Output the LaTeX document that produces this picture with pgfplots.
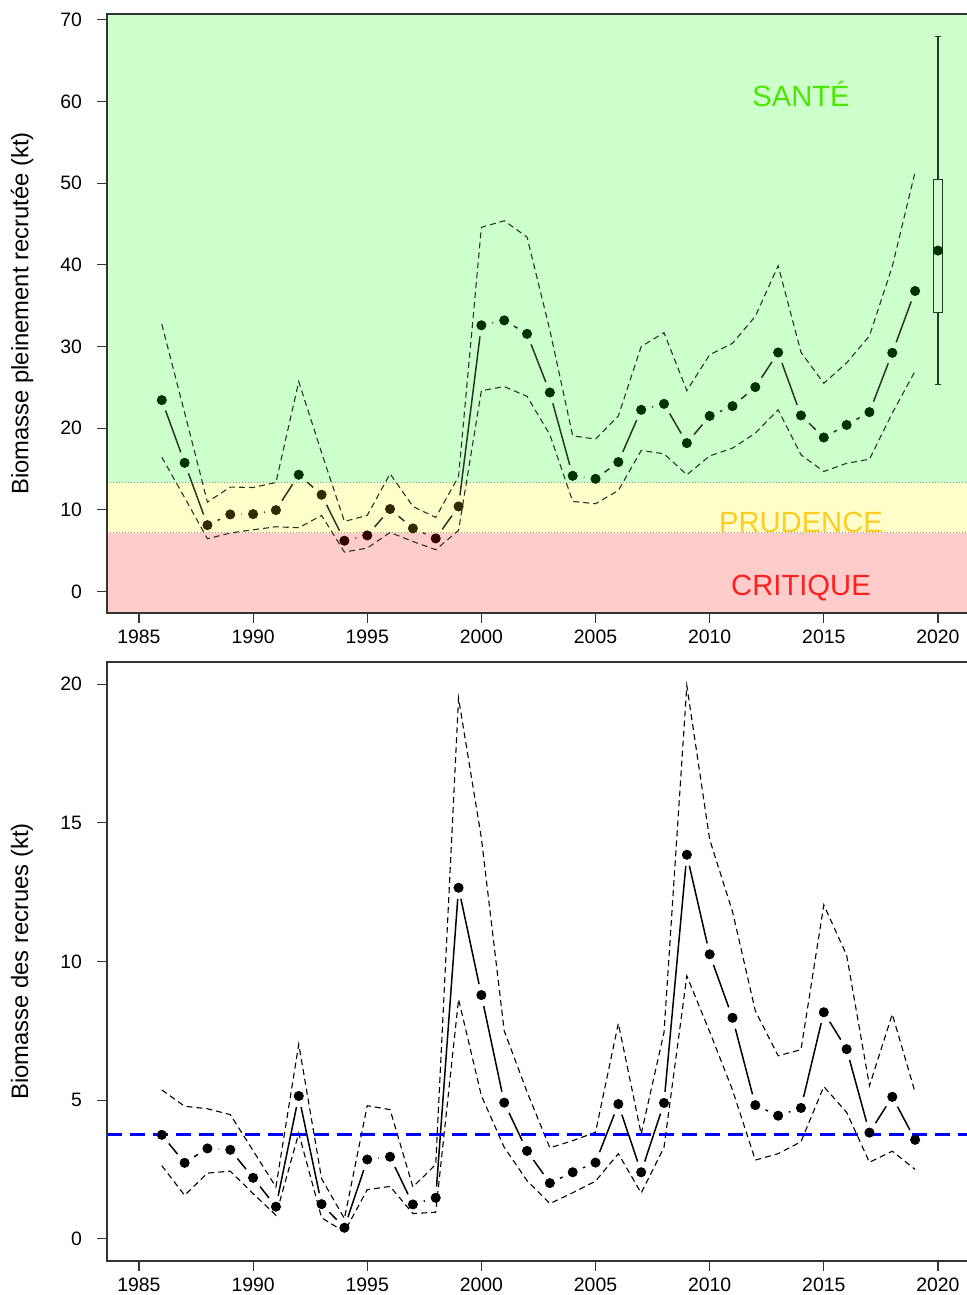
\documentclass[border=0pt]{standalone}
\usepackage{fontspec}
\setmainfont{Liberation Sans}
\usepackage{pgfplots}
\pgfplotsset{compat=1.18}
\usepackage{pgfplotstable}

\definecolor{zg}{HTML}{CCFFCC}
\definecolor{zy}{HTML}{FFFFCC}
\definecolor{zr}{HTML}{FFCCCC}
\definecolor{tg}{HTML}{4CE600}
\definecolor{ty}{HTML}{FFCC22}
\definecolor{tr}{HTML}{FF2020}
\definecolor{pg}{HTML}{003300}
\definecolor{py}{HTML}{332B00}
\definecolor{pr}{HTML}{330000}
\definecolor{ln}{HTML}{263826}

\pgfplotstableread{
year est lo hi
1986 23.44 16.46 32.74
1987 15.76 11.5 21.9
1988 8.13 6.46 10.95
1989 9.44 7.16 12.79
1990 9.48 7.56 12.74
1991 9.97 7.93 13.35
1992 14.30 7.81 25.7
1993 11.85 9.32 17.0
1994 6.22 4.83 8.58
1995 6.87 5.32 9.32
1996 10.10 7.23 14.42
1997 7.73 6.13 10.42
1998 6.50 5.12 9.07
1999 10.42 7.48 14.09
2000 32.60 24.58 44.6
2001 33.20 25.1 45.4
2002 31.55 23.9 43.4
2003 24.37 19.2 32.0
2004 14.17 11.03 19.07
2005 13.80 10.75 18.66
2006 15.85 12.37 21.5
2007 22.25 17.27 30.0
2008 22.98 16.87 31.7
2009 18.17 14.3 24.6
2010 21.5 16.6 29.0
2011 22.7 17.56 30.4
2012 25.03 19.4 33.7
2013 29.27 22.25 39.9
2014 21.56 16.74 29.3
2015 18.86 14.7 25.5
2016 20.4 15.7 28.0
2017 21.97 16.2 31.3
2018 29.23 21.85 39.8
2019 36.8 27.0 51.4
}\toptab

\pgfplotstableread{
year est lo hi
1986 3.75 2.64 5.37
1987 2.74 1.57 4.78
1988 3.26 2.37 4.69
1989 3.21 2.44 4.48
1990 2.20 1.63 3.18
1991 1.16 0.85 1.87
1992 5.15 3.81 7.02
1993 1.25 0.76 2.17
1994 0.40 0.25 0.73
1995 2.86 1.77 4.80
1996 2.96 1.89 4.66
1997 1.24 0.91 1.87
1998 1.48 0.96 2.68
1999 12.66 8.64 19.5
2000 8.79 5.16 14.45
2001 4.91 3.3 7.5
2002 3.17 2.1 5.3
2003 2.01 1.27 3.28
2004 2.40 1.66 3.54
2005 2.75 2.08 3.84
2006 4.86 3.07 7.77
2007 2.40 1.65 3.78
2008 4.90 3.3 7.44
2009 13.85 9.48 19.95
2010 10.26 7.47 14.4
2011 7.97 5.37 11.8
2012 4.82 2.84 8.22
2013 4.44 3.07 6.6
2014 4.72 3.5 6.82
2015 8.17 5.49 12.04
2016 6.84 4.56 10.23
2017 3.83 2.76 5.52
2018 5.12 3.16 8.1
2019 3.57 2.5 5.28
}\bottab

\pgfplotsset{
  common/.style={
    scale only axis, width=431.45pt, height=299.5pt,
    xmin=1983.6, xmax=2021.4,
    xtick={1985,1990,...,2020},
    tick pos=left,
    tick align=outside, major tick length=4.8pt,
    tick style={black!80, line width=0.6pt},
    axis line style={black!80, line width=0.7pt},
    ticklabel style={font=\fontsize{9.7}{11}\selectfont},
    /pgf/number format/assume math mode=true,
    /pgf/number format/1000 sep={},
    xticklabel style={inner sep=0pt, anchor=north, yshift=-3.6pt},
    yticklabel style={inner sep=0pt, anchor=east, xshift=-7.5pt},
    label style={font=\fontsize{11.9}{14}\selectfont},
    ylabel style={at={(axis description cs:-0.0985,0.5)}, anchor=center},
    axis on top,
  },
  seg/.style={no marks, line width=0.75pt, shorten <=5.6pt, shorten >=5.6pt},
  ci/.style={no marks, line width=0.55pt, dash pattern=on 3pt off 2pt},
  bx/.style={ln, no marks, line width=0.55pt},
  pt/.style={only marks, mark=*, mark size=2.3pt},
}

\begin{document}
\begin{tikzpicture}
% ---------- top panel ----------
\begin{axis}[common, at={(53.5pt,-7pt)}, anchor=north west,
  ymin=-2.63, ymax=70.72, ytick={0,10,...,70},
  ylabel={Biomasse pleinement recrutée (kt)}]
\fill[zr] (axis cs:1983.6,-2.63) rectangle (axis cs:2021.4,7.2);
\fill[zy] (axis cs:1983.6,7.2) rectangle (axis cs:2021.4,13.3);
\fill[zg] (axis cs:1983.6,13.3) rectangle (axis cs:2021.4,70.72);
\addplot[gray!80, densely dotted, line width=0.5pt] coordinates {(1983.6,7.2) (2021.4,7.2)};
\addplot[gray!80, densely dotted, line width=0.5pt] coordinates {(1983.6,13.3) (2021.4,13.3)};
\node[anchor=base, inner sep=0pt, text=tg, font=\fontsize{14.6}{17}\selectfont] at (axis cs:2014,59.45) {SANTÉ};
\node[anchor=base, inner sep=0pt, text=ty, font=\fontsize{14.6}{17}\selectfont] at (axis cs:2014,7.25) {PRUDENCE};
\node[anchor=base, inner sep=0pt, text=tr, font=\fontsize{14.6}{17}\selectfont] at (axis cs:2014,-0.51) {CRITIQUE};
\addplot[ln, ci] table[x=year, y=lo] {\toptab};
\addplot[ln, ci] table[x=year, y=hi] {\toptab};
\foreach \i [evaluate=\i as \k using int(\i+2)] in {0,...,32}{
  \edef\tmp{\noexpand\addplot[ln, seg, skip coords between index={0}{\i}, skip coords between index={\k}{100}] table[x=year, y=est] {\noexpand\toptab};}
  \tmp
}
\addplot[pt, mark options={draw=pg, fill=pg}, restrict y to domain=13.3:100] table[x=year, y=est] {\toptab};
\addplot[pt, mark options={draw=py, fill=py}, restrict y to domain=7.2:13.3] table[x=year, y=est] {\toptab};
\addplot[pt, mark options={draw=pr, fill=pr}, restrict y to domain=-10:7.2] table[x=year, y=est] {\toptab};
% 2020 box (quartiles 34.2 / 50.5, whiskers 25.4 / 68.0)
\addplot[bx] coordinates {(2019.8,34.2) (2020.2,34.2) (2020.2,50.5) (2019.8,50.5) (2019.8,34.2)};
\addplot[bx] coordinates {(2019.8,41.75) (2020.2,41.75)};
\addplot[bx] coordinates {(2020,50.5) (2020,68.0)};
\addplot[bx] coordinates {(2019.87,68.0) (2020.13,68.0)};
\addplot[bx] coordinates {(2020,34.2) (2020,25.4)};
\addplot[bx] coordinates {(2019.87,25.4) (2020.13,25.4)};
\addplot[pt, mark options={draw=pg, fill=pg}] coordinates {(2020,41.75)};
\end{axis}
% ---------- bottom panel ----------
\begin{axis}[common, at={(53.5pt,-331pt)}, anchor=north west,
  ymin=-0.8, ymax=20.8, ytick={0,5,...,20},
  ylabel={Biomasse des recrues (kt)}]
\addplot[black, ci] table[x=year, y=lo] {\bottab};
\addplot[black, ci] table[x=year, y=hi] {\bottab};
\foreach \i [evaluate=\i as \k using int(\i+2)] in {0,...,32}{
  \edef\tmp{\noexpand\addplot[black, seg, skip coords between index={0}{\i}, skip coords between index={\k}{100}] table[x=year, y=est] {\noexpand\bottab};}
  \tmp
}
\addplot[blue, line width=1.5pt, dash pattern=on 7.5pt off 4pt] coordinates {(1983.6,3.76) (2021.4,3.76)};
\addplot[pt, mark options={draw=black, fill=black}] table[x=year, y=est] {\bottab};
\end{axis}
\pgfresetboundingbox
\path[use as bounding box] (0,0) rectangle (483pt,-647.5pt);
\end{tikzpicture}
\end{document}
